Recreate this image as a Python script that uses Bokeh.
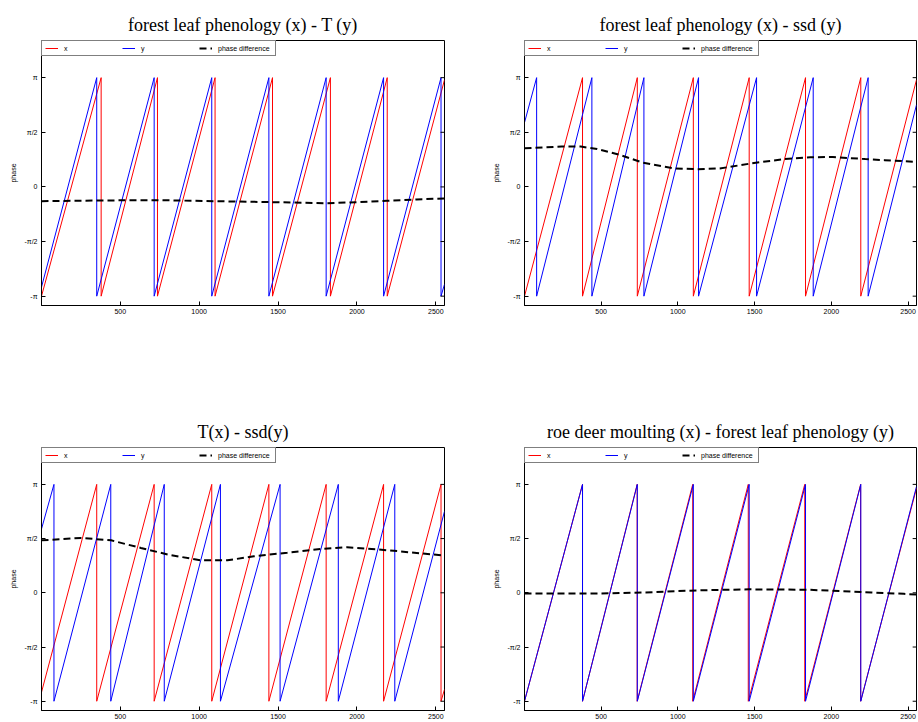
import math
from bokeh.plotting import figure
from bokeh.layouts import column, row
from bokeh.models import Range1d, FixedTicker, Legend, CustomJSTickFormatter
from bokeh.embed import file_html
from bokeh.resources import INLINE

PI = math.pi
DAY_START = 1
DAY_END = 2555

# wrapped phase series: phase at first day, days where phase wraps from pi to -pi, phase at last day
LEAF_START = PI
LEAF_WRAPS = [1, 379, 736, 1101, 1465, 1832, 2192]
LEAF_END = 3.08

T_START = -2.88
T_WRAPS = [351, 715, 1080, 1442, 1805, 2169, 2533]
T_END = -2.80

SSD_START = 1.85
SSD_WRAPS = [80, 440, 779, 1135, 1513, 1882, 2240]
SSD_END = 2.36

ROE_START = PI
ROE_WRAPS = [1, 379, 735, 1097, 1459, 1827, 2191]
ROE_END = 3.03

# phase differences (x - y)
TL_DIFF_DAYS = [1, 378, 736, 1094, 1495, 1811, 1998, 2190, 2379, 2555]
TL_DIFF = [-0.41, -0.39, -0.38, -0.41, -0.44, -0.47, -0.44, -0.40, -0.36, -0.33]

TR_DIFF_DAYS = [1, 243, 368, 474, 622, 769, 979, 1126, 1273, 1484, 1694, 1863, 2010, 2221, 2347, 2473, 2555]
TR_DIFF = [1.11, 1.16, 1.16, 1.09, 0.92, 0.70, 0.53, 0.51, 0.53, 0.68, 0.80, 0.85, 0.86, 0.80, 0.77, 0.74, 0.72]

BL_DIFF_DAYS = [1, 252, 442, 631, 800, 1010, 1179, 1347, 1558, 1769, 1937, 2127, 2274, 2555]
BL_DIFF = [1.52, 1.59, 1.52, 1.30, 1.11, 0.94, 0.94, 1.06, 1.16, 1.27, 1.32, 1.26, 1.20, 1.08]

BR_DIFF_DAYS = [1, 160, 500, 790, 1000, 1211, 1463, 1842, 2053, 2263, 2473, 2555]
BR_DIFF = [-0.02, -0.02, -0.02, 0.01, 0.05, 0.08, 0.10, 0.09, 0.05, 0.01, -0.03, -0.05]

TITLES = ["forest leaf phenology (x) - T (y)",
          "forest leaf phenology (x) - ssd (y)",
          "T(x) - ssd(y)",
          "roe deer moulting (x) - forest leaf phenology (y)"]

X_TICKS = [500, 1000, 1500, 2000, 2500]
Y_TICKS = [-PI, -PI / 2, 0, PI / 2, PI]


def sawtooth(start, wraps, end):
    xs = [DAY_START]
    ys = [start]
    for w in wraps:
        xs += [w, w]
        ys += [PI, -PI]
    xs.append(DAY_END)
    ys.append(end)
    return xs, ys


LEAF = sawtooth(LEAF_START, LEAF_WRAPS, LEAF_END)
TT = sawtooth(T_START, T_WRAPS, T_END)
SSD = sawtooth(SSD_START, SSD_WRAPS, SSD_END)
ROE = sawtooth(ROE_START, ROE_WRAPS, ROE_END)

fmt_code = """
const r = tick / Math.PI;
if (Math.abs(r - 1) < 1e-6) return "π";
if (Math.abs(r - 0.5) < 1e-6) return "π/2";
if (Math.abs(r) < 1e-6) return "0";
if (Math.abs(r + 0.5) < 1e-6) return "-π/2";
if (Math.abs(r + 1) < 1e-6) return "-π";
return "";
"""

FONT = "Liberation Sans"


def panel(title, xser, yser, dd, dv, width, height, bl, br, bb):
    p = figure(width=width, height=height, output_backend="svg", toolbar_location=None,
               x_range=Range1d(DAY_START, DAY_END), y_range=Range1d(-3.41, 4.21),
               min_border_left=bl, min_border_right=br, min_border_top=40, min_border_bottom=bb,
               title=title)
    p.title.text_font = "Liberation Serif"
    p.title.text_font_size = "18px"
    p.title.text_font_style = "normal"
    p.title.align = "center"
    p.title.standoff = 11
    p.title.text_color = "black"
    p.xgrid.visible = False
    p.ygrid.visible = False
    p.outline_line_color = "black"
    p.outline_line_width = 1
    p.background_fill_color = "white"
    p.border_fill_color = "white"

    r1 = p.line(xser[0], xser[1], line_color="#ff0000", line_width=1)
    r2 = p.line(yser[0], yser[1], line_color="#0000ff", line_width=1)
    r3 = p.line(dd, dv, line_color="black", line_width=2, line_dash="7 4")

    # inward tick marks on the right frame edge (R style box axis)
    p.segment(x0=[DAY_END] * len(Y_TICKS), y0=Y_TICKS,
              x1=[DAY_END - 25] * len(Y_TICKS), y1=Y_TICKS,
              line_color="black", line_width=1)

    legend = Legend(items=[("x", [r1]), ("y", [r2]), ("phase difference", [r3])],
                    orientation="horizontal", location="top_left", margin=0, padding=3,
                    spacing=4, glyph_width=13, glyph_height=8, label_width=54, label_height=8,
                    label_standoff=6, label_text_font_size="7px", label_text_font=FONT,
                    label_text_color="black",
                    border_line_color="black", border_line_width=1, background_fill_alpha=1)
    p.add_layout(legend)

    for ax in p.xaxis:
        ax.ticker = FixedTicker(ticks=X_TICKS)
        ax.major_label_standoff = 3
    for ax in p.yaxis:
        ax.ticker = FixedTicker(ticks=Y_TICKS)
        ax.formatter = CustomJSTickFormatter(code=fmt_code)
        ax.axis_label = "phase"
        ax.axis_label_text_font_size = "7px"
        ax.axis_label_text_font = FONT
        ax.axis_label_text_font_style = "normal"
        ax.axis_label_text_color = "black"
        ax.axis_label_standoff = 5
        ax.major_label_standoff = 4
    for ax in list(p.xaxis) + list(p.yaxis):
        ax.major_tick_in = 4
        ax.major_tick_out = 0
        ax.minor_tick_line_color = None
        ax.major_label_text_font_size = "7px"
        ax.major_label_text_font = FONT
        ax.major_label_text_color = "black"
        ax.axis_line_color = "black"
        ax.major_tick_line_color = "black"
    return p


p1 = panel(TITLES[0], LEAF, TT, TL_DIFF_DAYS, TL_DIFF, 489, 407, 41, 45, 102)
p2 = panel(TITLES[1], LEAF, SSD, TR_DIFF_DAYS, TR_DIFF, 429, 407, 33, 2, 102)
p3 = panel(TITLES[2], TT, SSD, BL_DIFF_DAYS, BL_DIFF, 489, 315, 41, 45, 12)
p4 = panel(TITLES[3], ROE, LEAF, BR_DIFF_DAYS, BR_DIFF, 429, 315, 33, 2, 12)

layout = column(row(p1, p2), row(p3, p4))

with open("out.html", "w") as f:
    f.write(file_html(layout, INLINE))
